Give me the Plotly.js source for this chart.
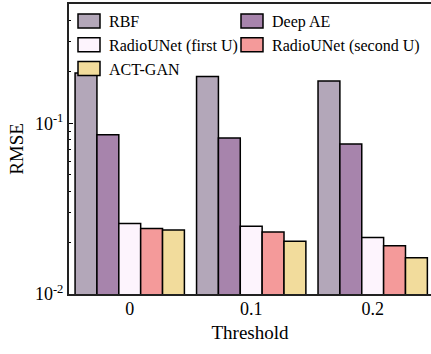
<!DOCTYPE html>
<html>
<head>
<meta charset="utf-8">
<script src="https://cdn.plot.ly/plotly-3.0.1.min.js"></script>
<style>
html,body{margin:0;padding:0;background:#fff;}
#chart{width:431px;height:354px;}
</style>
</head>
<body>
<div id="chart"></div>
<script>
const thresholds = ['0', '0.1', '0.2'];
const seriesNames = ['RBF', 'Deep AE', 'RadioUNet (first U)', 'RadioUNet (second U)', 'ACT-GAN'];
const rbf = [0.197, 0.188, 0.177];
const deepAE = [0.0858, 0.082, 0.0756];
const radioFirst = [0.0259, 0.0249, 0.0214];
const radioSecond = [0.0242, 0.0231, 0.0192];
const actGan = [0.0237, 0.0204, 0.0163];
const colors = ['#b3a7b9', '#a784ac', '#fdf4fd', '#f49a9a', '#f2dc9c'];
const yTickVals = [0.01, 0.1];
const yTickText = ['10<sup>-2</sup>', '10<sup>-1</sup>'];

const values = [rbf, deepAE, radioFirst, radioSecond, actGan];
const traces = values.map((v, i) => ({
  type: 'bar',
  name: seriesNames[i],
  x: thresholds,
  y: v,
  marker: {color: colors[i], line: {color: '#000', width: 1.5}}
}));

const fam = 'Liberation Serif';
const tickFont = {family: fam, size: 18, color: '#000'};
const titleFont = {family: fam, size: 19, color: '#000'};
const layout = {
  width: 431, height: 354,
  margin: {l: 69, r: 0, t: 4, b: 60},
  paper_bgcolor: '#fff', plot_bgcolor: '#fff',
  font: {family: fam, size: 18, color: '#000'},
  barmode: 'group', bargap: 0.1, bargroupgap: 0,
  showlegend: true,
  legend: {
    orientation: 'h', x: 0.0, y: 1.0, xanchor: 'left', yanchor: 'top',
    entrywidth: 118, entrywidthmode: 'pixels',
    font: {family: fam, size: 16, color: '#000'},
    bgcolor: 'rgba(0,0,0,0)', tracegroupgap: 0, itemwidth: 30
  },
  xaxis: {
    type: 'category', range: [-0.5, 2.48],
    showline: true, linecolor: '#222', linewidth: 2, mirror: true,
    ticks: '', showgrid: false, zeroline: false,
    tickfont: tickFont, ticklabelstandoff: -3,
    title: {text: 'Threshold', font: titleFont, standoff: 8}
  },
  yaxis: {
    type: 'log', range: [-2, Math.log10(0.5)],
    showline: true, linecolor: '#222', linewidth: 2, mirror: false,
    ticks: 'inside', ticklen: 4, tickwidth: 1, tickcolor: '#000',
    tickmode: 'array', tickvals: yTickVals, ticktext: yTickText,
    minor: {ticks: 'inside', ticklen: 2, tickwidth: 1, tickcolor: '#000', showgrid: false, dtick: 'D1'},
    showgrid: false, zeroline: false,
    tickfont: tickFont,
    title: {text: 'RMSE', font: titleFont, standoff: 6}
  }
};

Plotly.newPlot('chart', traces, layout, {displayModeBar: false, staticPlot: true}).then(() => {
  document.querySelectorAll('#chart .legend .legendpoints path').forEach(p => {
    p.setAttribute('d', 'M11,7H-11V-7H11Z');
  });
  document.querySelectorAll('#chart .legend [clip-path]').forEach(e => e.removeAttribute('clip-path'));
});
</script>
</body>
</html>
